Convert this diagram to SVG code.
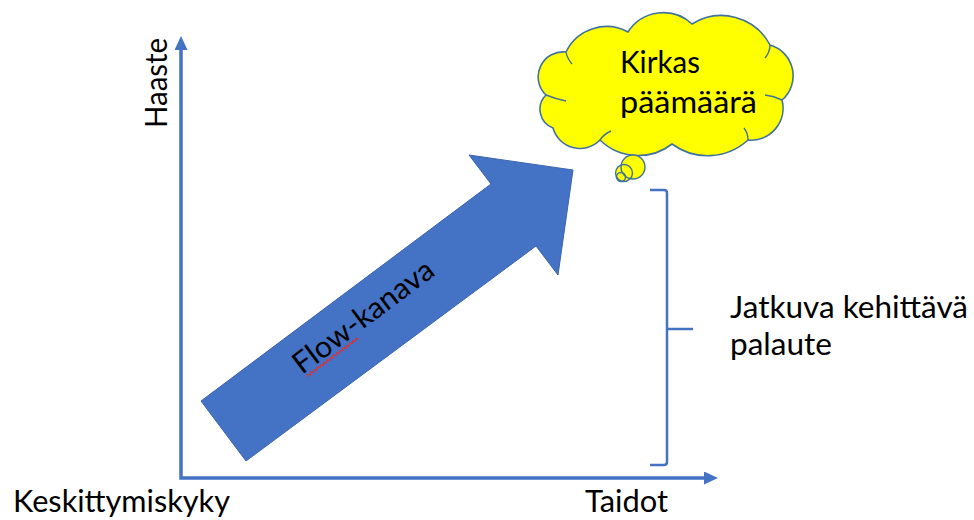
<svg xmlns="http://www.w3.org/2000/svg" width="974" height="520" viewBox="0 0 974 520">
  <style>
    .t { font-family: "Lato", "Open Sans", "DejaVu Sans", sans-serif; font-size: 30px; fill: #000; }
    .axis { fill: none; stroke: #4472C4; stroke-width: 3.5; }
    .brace { fill: none; stroke: #4472C4; stroke-width: 2.5; stroke-linejoin: round; }
    .cloud { fill: #FFFF00; stroke: #41719C; stroke-width: 1.6; }
    .cloudline { fill: none; stroke: #41719C; stroke-width: 1.4; }
  </style>
  <defs>
    <marker id="ah" viewBox="0 0 14 13" markerWidth="14" markerHeight="13" refX="1" refY="6.5" orient="auto-start-reverse" markerUnits="userSpaceOnUse">
      <path d="M0,0 L14,6.5 L0,13 Z" fill="#4472C4"/>
    </marker>
  </defs>
  <rect width="974" height="520" fill="#FFFFFF"/>

  <g id="connectors">
    <path class="axis" d="M181,49 V478 H705" marker-start="url(#ah)" marker-end="url(#ah)"/>
  </g>

  <g id="y-label">
    <text class="t" transform="translate(167,128) rotate(-90)" textLength="90" lengthAdjust="spacingAndGlyphs">Haaste</text>
  </g>
  <g id="x-label-left">
    <text class="t" x="13" y="512" textLength="217" lengthAdjust="spacingAndGlyphs">Keskittymiskyky</text>
  </g>
  <g id="x-label-right">
    <text class="t" x="585" y="512" textLength="83" lengthAdjust="spacingAndGlyphs">Taidot</text>
  </g>

  <g id="flow-arrow">
    <path d="M201,401 L491,184 L469,155 L573,170 L558,275 L536,246 L246,461 Z" fill="#4472C4" stroke="#3B65B0" stroke-width="1"/>
    <g transform="translate(302,375) rotate(-36.8)">
      <text class="t" x="0" y="0" textLength="168" lengthAdjust="spacingAndGlyphs">Flow-kanava</text>
      <path d="M3,5 l2,-2 l2,2 l2,-2 l2,2 l2,-2 l2,2 l2,-2 l2,2 l2,-2 l2,2 l2,-2 l2,2 l2,-2 l2,2 l2,-2 l2,2 l2,-2 l2,2 l2,-2 l2,2 l2,-2 l2,2 l2,-2 l2,2 l2,-2 l2,2 l2,-2 l2,2 l2,-2 l2,2 l2,-2 l2,2" fill="none" stroke="#E03030" stroke-width="1.2"/>
    </g>
  </g>

  <g id="cloud">
    <path class="cloud" d="M553,128 A20,20 0 0 1 546,95 A25,25 0 0 1 566,52 A45,45 0 0 1 628,32 A42,42 0 0 1 692,24 A55,55 0 0 1 770,45 A32,32 0 0 1 782,100 A32,32 0 0 1 748,140 A60,60 0 0 1 672,144 A55,55 0 0 1 600,140 A28,28 0 0 1 553,128 Z"/>
    <path class="cloudline" d="M546,95 Q556,99 566,101"/>
    <path class="cloudline" d="M566,52 Q567,58 572,64"/>
    <path class="cloudline" d="M770,45 Q770,52 765,58"/>
    <path class="cloudline" d="M782,100 Q774,96 765,95"/>
    <path class="cloudline" d="M748,140 Q748,133 744,128"/>
    <path class="cloudline" d="M600,140 Q604,134 611,131"/>
    <circle cx="633" cy="167" r="12" fill="#FFFF00"/>
    <circle cx="624" cy="173" r="8.5" fill="#FFFF00"/>
    <circle cx="621" cy="177" r="4.5" fill="#FFFF00"/>
    <circle cx="633" cy="167" r="12" class="cloudline"/>
    <circle cx="624" cy="173" r="8.5" class="cloudline"/>
    <circle cx="621" cy="177" r="4.5" class="cloudline"/>
    <text class="t" x="620" y="73" textLength="80" lengthAdjust="spacingAndGlyphs">Kirkas</text>
    <text class="t" x="620" y="113" textLength="137" lengthAdjust="spacingAndGlyphs">päämäärä</text>
  </g>

  <g id="brace">
    <path class="brace" d="M650,190 H664 Q667,190 667,193 V462 Q667,465 664,465 H650 M667,329 H693"/>
  </g>

  <g id="feedback-label">
    <text class="t" x="730" y="318" textLength="238" lengthAdjust="spacingAndGlyphs">Jatkuva kehittävä</text>
    <text class="t" x="730" y="355" textLength="102" lengthAdjust="spacingAndGlyphs">palaute</text>
  </g>
</svg>
